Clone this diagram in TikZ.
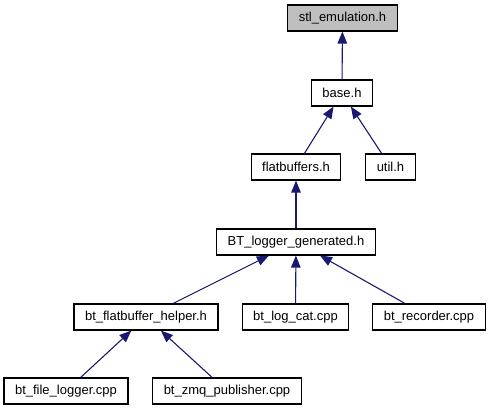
\documentclass[tikz,border=0pt]{standalone}
\usepackage{fontspec}
\setmainfont{Liberation Sans}
\usetikzlibrary{arrows.meta}
\definecolor{edgeblue}{RGB}{25,25,112}
\definecolor{rootgray}{RGB}{191,191,191}
\begin{document}
\begin{tikzpicture}[x=1pt, y=-1pt,
    file/.style={rectangle, draw=black, line width=1.1pt, fill=white, inner xsep=11pt, inner ysep=0pt, minimum height=26pt, font=\fontsize{13}{15}\selectfont},
    arr/.style={-{Triangle[length=12pt,width=9.5pt]}, line width=1.1pt, edgeblue}
]
    \useasboundingbox (0,0) rectangle (491,411);

    % Fichiers
    \node[file, fill=rootgray] (stl) at (342.5,18) {stl\_emulation.h};
    \node[file] (base) at (342,93) {base.h};
    \node[file] (flat) at (296,167) {flatbuffers.h};
    \node[file] (util) at (390.5,167) {util.h};
    \node[file] (gen) at (296,242) {BT\_logger\_generated.h};
    \node[file] (helper) at (146,317) {bt\_flatbuffer\_helper.h};
    \node[file] (logcat) at (295.5,317) {bt\_log\_cat.cpp};
    \node[file] (recorder) at (429,317) {bt\_recorder.cpp};
    \node[file] (filelog) at (66,391) {bt\_file\_logger.cpp};
    \node[file] (zmq) at (227,391) {bt\_zmq\_publisher.cpp};

    % Inclusions
    \draw[arr] (base) -- (stl);
    \draw[arr] (flat) -- (base);
    \draw[arr] (util) -- (base);
    \draw[arr] (gen) -- (flat);
    \draw[arr] (helper) -- (gen);
    \draw[arr] (logcat) -- (gen);
    \draw[arr] (recorder) -- (gen);
    \draw[arr] (filelog) -- (helper);
    \draw[arr] (zmq) -- (helper);
\end{tikzpicture}
\end{document}
